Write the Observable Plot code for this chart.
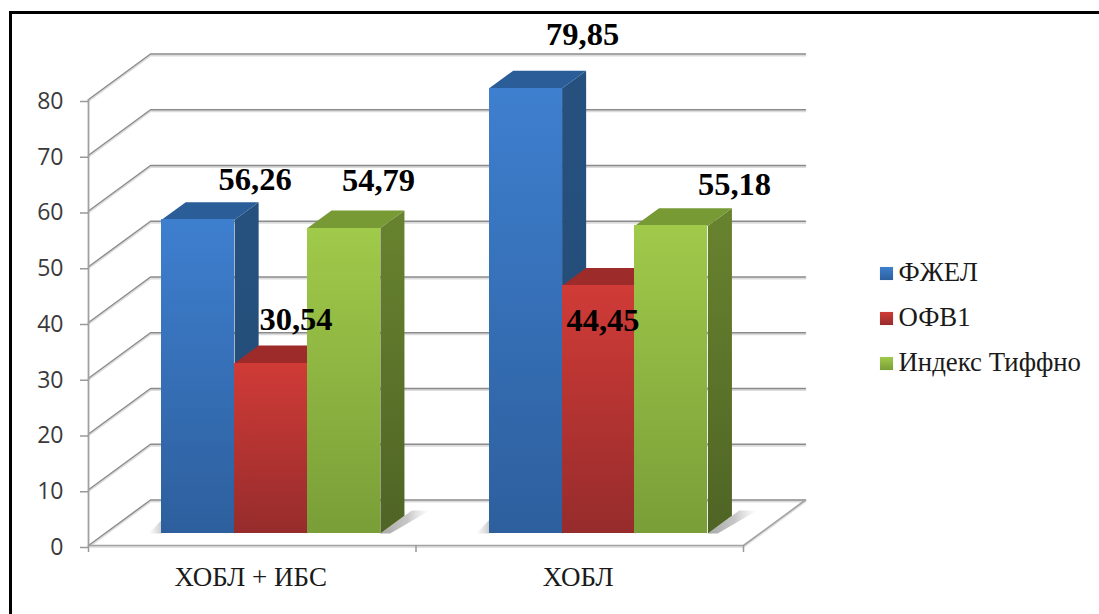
<!DOCTYPE html>
<html lang="ru">
<head>
<meta charset="utf-8">
<script src="https://cdn.jsdelivr.net/npm/d3@7"></script>
<script src="https://cdn.jsdelivr.net/npm/@observablehq/plot@0.6"></script>
<style>
  html, body { margin: 0; padding: 0; background: #fff; width: 1099px; height: 614px; overflow: hidden; }
  #chart { position: absolute; left: 0; top: 0; }
  #edge { position: absolute; left: 9px; top: 11px; right: 0; bottom: 0; border-left: 3px solid #000; border-top: 3px solid #000; pointer-events: none; }
</style>
</head>
<body>
<div id="chart"></div>
<div id="edge"></div>
<script>
// Chart data
const categories = ["ХОБЛ + ИБС", "ХОБЛ"];
const seriesNames = ["ФЖЕЛ", "ОФВ1", "Индекс Тиффно"];
const fvc = [56.26, 79.85];
const fev1 = [30.54, 44.45];
const tiffeneau = [54.79, 55.18];
const yTicks = [0, 10, 20, 30, 40, 50, 60, 70, 80];

// Oblique projection: depth 0 is the front of the floor, depth 1 the back wall
const depthX = 0.1893;   // category units per unit of depth
const depthY = 8.16;     // value units per unit of depth
const px = (x, d) => x + d * depthX;
const py = (v, d) => v + d * depthY;

// Bars stand on the floor between these depths
const barFront = 0.264;
const barBack = 0.652;
const barGap = 0.1735;
const barWidth = 0.2226;

const seriesValues = [fvc, fev1, tiffeneau];
const palette = [
  {id: "fvc", front: ["#3e7fcf", "#2d5f9d"], side: ["#26517f", "#234a75"], top: "#2b5d98"},
  {id: "fev", front: ["#d03b37", "#962c2c"], side: ["#8c2826", "#7a2322"], top: "#9c2b29"},
  {id: "tif", front: ["#a0ca4a", "#7a9e38"], side: ["#68832f", "#4f6425"], top: "#779a35"}
];

const bars = seriesValues.flatMap((values, s) => values.map((value, c) => ({
  series: s,
  category: c,
  value,
  left: c + barGap + s * barWidth,
  right: c + barGap + (s + 1) * barWidth
})));

// Label placement around each bar's top front edge, in pixels [dx, dy]
const labelNudge = [
  [[57, -40], [57, -54]],
  [[25, -44], [4.5, 35]],
  [[34.5, -47], [63, -41]]
];

const ink = "#8b8b8b";
const serif = "'Liberation Serif', serif";
const sans = "'Open Sans', sans-serif";

// Wall and floor rules: each runs from the left axis back to the wall, then across it
const gridRows = yTicks.flatMap(v => [
  {row: v, x: px(0, 0), y: py(v, 0)},
  {row: v, x: px(0, 1), y: py(v, 1)},
  {row: v, x: px(2, 1), y: py(v, 1)}
]);
const floorEdge = [
  {x: px(2, 1), y: py(0, 1)},
  {x: px(2, 0), y: py(0, 0)},
  {x: px(0, 0), y: py(0, 0)}
];

const sideFace = b => [
  {x: px(b.right, barFront), y: py(0, barFront)},
  {x: px(b.right, barBack), y: py(0, barBack)},
  {x: px(b.right, barBack), y: py(b.value, barBack)},
  {x: px(b.right, barFront), y: py(b.value, barFront)}
];
const topFace = b => [
  {x: px(b.left, barFront), y: py(b.value, barFront)},
  {x: px(b.right, barFront), y: py(b.value, barFront)},
  {x: px(b.right, barBack), y: py(b.value, barBack)},
  {x: px(b.left, barBack), y: py(b.value, barBack)}
];

// Soft floor shadows on either side of each group
const shadowRight = categories.map((_, c) => {
  const r = c + barGap + 3 * barWidth;
  return [
    {x: px(r, barFront), y: py(0, barFront)},
    {x: px(r, 0.70), y: py(0, 0.70)},
    {x: px(r, 0.77), y: py(0, 0.77)},
    {x: px(r + 0.055, 0.77), y: py(0, 0.77)},
    {x: px(r + 0.03, barFront), y: py(0, barFront)}
  ];
});
const shadowLeft = categories.map((_, c) => {
  const l = c + barGap;
  return [
    {x: px(l - 0.04, barFront), y: py(0, barFront)},
    {x: px(l, barFront), y: py(0, barFront)},
    {x: px(l, barFront), y: py(2.4, barFront)}
  ];
});

// Shared gradients for the bar faces, the legend keys and the shadows
function defs() {
  const root = d3.create("svg:defs");
  const add = (id, stops, horizontal) => {
    const g = root.append("linearGradient").attr("id", id)
      .attr("x1", 0).attr("y1", 0)
      .attr("x2", horizontal ? 1 : 0).attr("y2", horizontal ? 0 : 1);
    stops.forEach(([offset, color, opacity]) => g.append("stop")
      .attr("offset", offset).attr("stop-color", color).attr("stop-opacity", opacity ?? 1));
  };
  palette.forEach(p => {
    add(`${p.id}-front`, [[0, p.front[0]], [1, p.front[1]]]);
    add(`${p.id}-side`, [[0, p.side[0]], [1, p.side[1]]]);
  });
  add("shade-right", [[0, "#8a8a8a", 0.75], [0.55, "#999", 0.55], [1, "#bbb", 0]], true);
  add("shade-left", [[0, "#aaa", 0], [1, "#999", 0.5]], true);
  return root.node();
}

const marks = [
  defs,
  // soft under-edge of the rules
  Plot.line(gridRows, {x: "x", y: "y", z: "row", stroke: "#dcdcdc", strokeWidth: 2, dy: 1.5}),
  Plot.line(floorEdge, {x: "x", y: "y", stroke: "#e2e2e2", strokeWidth: 2, dy: 1.5}),
  Plot.line(gridRows, {x: "x", y: "y", z: "row", stroke: ink, strokeWidth: 1.4}),
  Plot.line(floorEdge, {x: "x", y: "y", stroke: "#a2a2a2", strokeWidth: 1.6}),
  Plot.ruleX([0], {y1: 0, y2: 80, stroke: "#a0a0a0", strokeWidth: 1.8}),
  ...shadowRight.map(pts => Plot.line(pts, {x: "x", y: "y", fill: "url(#shade-right)", stroke: "none"})),
  ...shadowLeft.map(pts => Plot.line(pts, {x: "x", y: "y", fill: "url(#shade-left)", stroke: "none"})),
  // bars, left to right: each one's side and top sit behind its neighbour's front
  ...bars.flatMap(b => {
    const p = palette[b.series];
    return [
      Plot.line(sideFace(b), {x: "x", y: "y", fill: `url(#${p.id}-side)`, stroke: "none"}),
      Plot.line(topFace(b), {x: "x", y: "y", fill: p.top, stroke: "none"}),
      Plot.rect([b], {
        x1: d => px(d.left, barFront),
        x2: d => px(d.right, barFront),
        y1: () => py(0, barFront),
        y2: d => py(d.value, barFront),
        fill: `url(#${p.id}-front)`,
        shapeRendering: "crispEdges"
      })
    ];
  }),
  Plot.axisY({
    ticks: yTicks, tickSize: 8, tickPadding: 17, label: null,
    stroke: "#999", strokeWidth: 1.5, fill: "#3a3a3a",
    fontSize: 23, fontFamily: sans, dy: 2
  }),
  Plot.axisX({
    ticks: [0, 1, 2], tickSize: 7, tickFormat: () => "", label: null,
    stroke: "#999", strokeWidth: 1.5
  }),
  Plot.axisX({
    ticks: [0.5, 1.5], tickSize: 0, tickPadding: 21, label: null,
    tickFormat: t => categories[Math.floor(t)],
    fill: "#1a1a1a", fontSize: 27, fontFamily: serif, dx: -1.5
  }),
  // value labels, written with a decimal comma
  ...bars.map(b => {
    const [dx, dy] = labelNudge[b.series][b.category];
    return Plot.text([b], {
      x: d => px((d.left + d.right) / 2, barFront),
      y: d => py(d.value, barFront),
      text: d => d.value.toFixed(2).replace(".", ","),
      dx, dy,
      fill: "#000", fontWeight: "bold", fontSize: 32.5, fontFamily: serif,
      textAnchor: "middle", lineAnchor: "middle"
    });
  }),
  // legend, on the right of the plot area
  ...seriesNames.flatMap((name, i) => {
    const top = 174 + i * 45;
    return [
      Plot.dot([name], {
        frameAnchor: "top-left", dx: 798, dy: top,
        symbol: "square", r: 7.4, fill: `url(#${palette[i].id}-front)`, stroke: "none"
      }),
      Plot.text([name], {
        frameAnchor: "top-left", dx: 810, dy: top - 1,
        text: d => d, textAnchor: "start", lineAnchor: "middle",
        fill: "#1a1a1a", fontSize: 26.8, fontFamily: serif
      })
    ];
  })
];

const chart = Plot.plot({
  width: 1099,
  height: 614,
  marginLeft: 88,
  marginRight: 356,
  marginTop: 99,
  marginBottom: 69,
  style: {background: "#fff", overflow: "visible"},
  x: {domain: [0, 2]},
  y: {domain: [0, 80]},
  marks
});
document.getElementById("chart").append(chart);
</script>
</body>
</html>
